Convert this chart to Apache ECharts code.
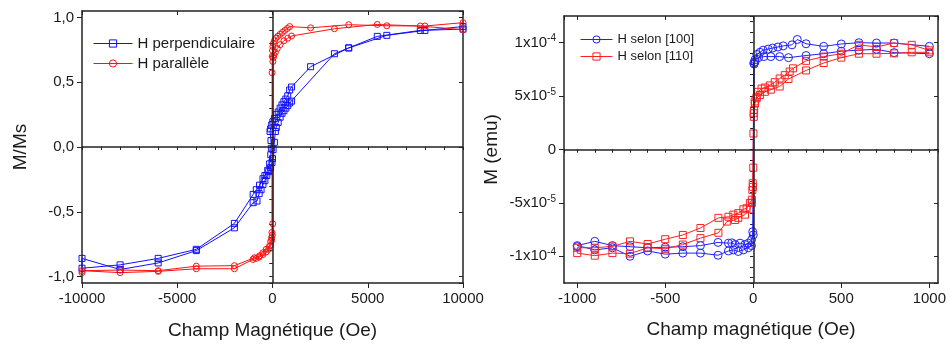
<!DOCTYPE html>
<html><head><meta charset="utf-8">
<script src="https://cdn.jsdelivr.net/npm/echarts@6/dist/echarts.min.js"></script>
<style>html,body{margin:0;padding:0;background:#fff}#c{width:949px;height:345px}</style>
</head><body><div id="c"></div>
<script>
// ---- Left chart: M/Ms vs field (Oe) ----
const perpH = [10000,8000,6000,4000,2000,1000,900,800,700,600,500,400,300,200,100,20,-40,-100,-130,-80,-60,-90,-150,-250,-400,-500,-680,-850,-1015,-2000,-4000,-6000,-8000,-10000,
  -10000,-8000,-6000,-4000,-2000,-1015,-815,-700,-600,-500,-400,-300,-200,-100,-30,0,30,100,150,200,300,400,500,600,700,800,900,1000,3250,4000,5500,7760,10000];
const perpM = [0.93,0.90,0.862,0.765,0.62,0.463,0.44,0.395,0.37,0.35,0.325,0.30,0.27,0.25,0.22,0.195,0.17,0.14,0.12,0.05,-0.01,-0.06,-0.13,-0.18,-0.22,-0.245,-0.295,-0.33,-0.366,-0.59,-0.79,-0.86,-0.91,-0.936,
  -0.86,-0.946,-0.895,-0.80,-0.624,-0.43,-0.417,-0.36,-0.33,-0.29,-0.26,-0.22,-0.19,-0.16,-0.12,-0.09,-0.02,0.036,0.12,0.15,0.19,0.23,0.26,0.28,0.30,0.32,0.34,0.354,0.72,0.765,0.854,0.90,0.91];
const paraH = [10000,8000,6000,4000,2000,900,780,650,520,400,280,180,100,50,20,0,-10,-20,-30,-50,-100,-160,-330,-510,-680,-950,-2000,-4000,-6000,-8000,-10000,
  -10000,-8000,-6000,-4000,-2000,-1030,-850,-700,-500,-330,-200,-100,-40,-10,10,20,40,80,150,250,400,600,800,1000,3250,5500,7760,10000];
const paraM = [0.96,0.934,0.936,0.944,0.92,0.93,0.915,0.90,0.885,0.87,0.855,0.84,0.82,0.80,0.775,0.745,0.70,0.573,-0.66,-0.70,-0.73,-0.766,-0.79,-0.817,-0.84,-0.855,-0.916,-0.92,-0.955,-0.95,-0.955,
  -0.97,-0.97,-0.96,-0.94,-0.94,-0.868,-0.86,-0.85,-0.83,-0.81,-0.79,-0.76,-0.72,-0.68,-0.593,0.66,0.69,0.71,0.73,0.76,0.79,0.82,0.84,0.857,0.913,0.946,0.934,0.905];

// ---- Right chart: M (emu) vs field (Oe) ----
const h100H = [1000,800,700,600,500,400,300,250,220,170,140,110,85,56,38,20,10,5,0,-10,-28,-47,-75,-103,-122,-141,-200,-300,-400,-500,-600,-700,-800,-900,-1000,
  -1000,-900,-800,-700,-600,-500,-400,-300,-200,-141,-113,-85,-56,-28,-10,-3,3,10,30,60,100,150,200,300,400,500,600,700,800,1000];
const h100M = [9.66e-5,9.97e-5,9.97e-5,1.0e-4,9.88e-5,9.66e-5,9.9e-5,1.03e-4,9.8e-5,9.7e-5,9.6e-5,9.5e-5,9.4e-5,9.3e-5,9.1e-5,8.9e-5,8.2e-5,8.0e-5,-8.0e-5,-8.46e-5,-8.77e-5,-8.9e-5,-8.77e-5,-8.9e-5,-8.74e-5,-8.77e-5,-8.7e-5,-9.0e-5,-9.1e-5,-9.15e-5,-9.2e-5,-9.1e-5,-9.0e-5,-8.6e-5,-9.0e-5,
  -9.1e-5,-9.4e-5,-9.2e-5,-10.0e-5,-9.5e-5,-9.8e-5,-9.7e-5,-9.7e-5,-9.9e-5,-9.5e-5,-9.4e-5,-9.55e-5,-9.4e-5,-9.2e-5,-9.0e-5,-7.7e-5,8.1e-5,8.4e-5,8.6e-5,8.7e-5,8.7e-5,8.7e-5,8.6e-5,8.8e-5,8.97e-5,9.2e-5,9.3e-5,9.38e-5,9.07e-5,8.97e-5];
const h110H = [1000,900,800,700,600,500,400,300,226,207,179,150,122,94,66,47,28,19,10,5,3,1,0,-3,-5,-8,-19,-38,-56,-85,-113,-141,-198,-300,-400,-500,-600,-700,-800,-900,-1000,
  -1000,-900,-800,-700,-600,-500,-400,-300,-198,-150,-104,-85,-47,-19,-8,-2,2,8,19,38,66,100,150,200,300,400,500,600,700,800,900,1000];
const h110M = [9.28e-5,9.8e-5,9.97e-5,9.6e-5,9.8e-5,8.97e-5,8.7e-5,8.3e-5,7.6e-5,7.3e-5,6.96e-5,6.65e-5,6.3e-5,6.0e-5,5.8e-5,5.7e-5,5.4e-5,4.9e-5,4.3e-5,3.7e-5,3.06e-5,1.5e-5,-1.7e-5,-3.16e-5,-3.8e-5,-4.7e-5,-5.0e-5,-5.5e-5,-5.6e-5,-5.96e-5,-6.1e-5,-6.3e-5,-6.4e-5,-7.35e-5,-8.0e-5,-8.4e-5,-8.85e-5,-8.6e-5,-9.07e-5,-9.2e-5,-9.2e-5,
  -9.7e-5,-9.94e-5,-9.7e-5,-9.75e-5,-9.2e-5,-9.3e-5,-8.9e-5,-8.3e-5,-7.8e-5,-6.75e-5,-6.6e-5,-6.4e-5,-6.1e-5,-5.6e-5,-5.0e-5,-3.5e-5,3.4e-5,4.5e-5,4.8e-5,5.1e-5,5.4e-5,5.6e-5,5.9e-5,6.6e-5,7.4e-5,8.1e-5,8.6e-5,8.97e-5,8.97e-5,9.0e-5,9.1e-5,9.1e-5];

const leftLegend = ['H perpendiculaire', 'H parallèle'];
const rightLegend = ['H selon [100]', 'H selon [110]'];

const FONT = 'Liberation Sans, Arial, sans-serif';
const TXT = '#1a1a1a';
const zip = (a, b) => a.map((v, i) => [v, b[i]]);

function axesFor(dim, grid, min, max, majorSplit, minorSplit, opts) {
  const main = dim === 'x' ? 'bottom' : 'left';
  const mirror = dim === 'x' ? 'top' : 'right';
  const base = { type: 'value', gridIndex: grid, min: min, max: max, splitLine: { show: false }, scale: false };
  const line = { show: true, onZero: false, lineStyle: { color: '#222', width: 1.5 } };
  return [
    Object.assign({}, base, {
      position: main, splitNumber: majorSplit, axisLine: line,
      axisTick: { show: true, inside: false, length: 5, lineStyle: { color: '#222', width: 1 } },
      axisLabel: Object.assign({ show: true, fontSize: 15, color: TXT, fontFamily: FONT, margin: 8,
        showMinLabel: false, showMaxLabel: false, formatter: v => String(Math.round(v)) }, opts.label || {}),
      name: opts.name, nameLocation: 'middle', nameGap: opts.nameGap,
      nameTextStyle: { fontSize: 19, color: TXT, fontFamily: FONT }
    }),
    Object.assign({}, base, {
      position: main, splitNumber: minorSplit, axisLine: { show: false },
      axisTick: { show: true, inside: false, length: 3, lineStyle: { color: '#222', width: 1 } },
      axisLabel: { show: false }
    }),
    Object.assign({}, base, {
      position: mirror, splitNumber: majorSplit, axisLine: line,
      axisTick: { show: true, inside: true, length: 4, lineStyle: { color: '#222', width: 1 } },
      axisLabel: { show: false }
    }),
    Object.assign({}, base, {
      position: mirror, splitNumber: minorSplit, axisLine: { show: false },
      axisTick: { show: true, inside: true, length: 3, lineStyle: { color: '#222', width: 1 } },
      axisLabel: { show: false }
    })
  ];
}

const xAxes = [].concat(
  axesFor('x', 0, -10000, 10000, 4, 20, { name: 'Champ Magnétique (Oe)', nameGap: 38,
    label: { showMinLabel: true, showMaxLabel: true } }),
  axesFor('x', 1, -1075, 1050, 4, 21, { name: 'Champ magnétique (Oe)', nameGap: 37 })
);
const yAxes = [].concat(
  axesFor('y', 0, -1.05, 1.05, 4, 21, { name: 'M/Ms', nameGap: 52,
    label: { formatter: v => (Math.round(v * 10) / 10).toFixed(1).replace('.', ',') } }),
  axesFor('y', 1, -1.25e-4, 1.25e-4, 5, 25, { name: 'M (emu)', nameGap: 63,
    label: {
      formatter: v => {
        const m = Math.round(v * 1e5);
        if (m === 0) return '0';
        const s = m < 0 ? '-' : '';
        const a = Math.abs(m);
        return a === 10 ? s + '1x10{sup|-4}' : s + a + 'x10{sup|-5}';
      },
      rich: { sup: { fontSize: 10, fontFamily: FONT, color: TXT, verticalAlign: 'bottom', padding: [0, 0, 8, 0] } }
    } })
);

function dataSeries(name, xi, yi, data, color, symbol, size) {
  return {
    name: name, type: 'line', xAxisIndex: xi, yAxisIndex: yi, data: data,
    symbol: symbol, symbolSize: size, showSymbol: true, showAllSymbol: true,
    lineStyle: { color: color, width: 1 },
    itemStyle: { color: 'rgba(255,255,255,0)', borderColor: color, borderWidth: 1 },
    z: 3, animation: false
  };
}
function zeroLines(xi, yi) {
  return {
    type: 'line', xAxisIndex: xi, yAxisIndex: yi, data: [], z: 1, silent: true,
    markLine: { silent: true, symbol: 'none', label: { show: false }, animation: false,
      lineStyle: { color: '#222', width: 1.5, type: 'solid' },
      data: [{ xAxis: 0 }, { yAxis: 0 }] }
  };
}

const option = {
  animation: false,
  backgroundColor: '#fff',
  textStyle: { fontFamily: FONT },
  grid: [
    { left: 82, right: 486, top: 11, bottom: 61 },
    { left: 564, right: 8, top: 16, bottom: 62 }
  ],
  xAxis: xAxes,
  yAxis: yAxes,
  legend: [
    { data: leftLegend, orient: 'vertical', left: 88, top: 31, itemWidth: 39, itemHeight: 9, itemGap: 5,
      lineStyle: { width: 1 }, itemStyle: { borderWidth: 1 },
      textStyle: { fontSize: 15, color: TXT, fontFamily: FONT } },
    { data: rightLegend, orient: 'vertical', left: 575, top: 28, itemWidth: 32, itemHeight: 9, itemGap: 4,
      lineStyle: { width: 1 }, itemStyle: { borderWidth: 1 },
      textStyle: { fontSize: 13, color: TXT, fontFamily: FONT } }
  ],
  series: [
    zeroLines(0, 0),
    zeroLines(4, 4),
    dataSeries(leftLegend[0], 0, 0, zip(perpH, perpM), '#1010ff', 'rect', 6),
    dataSeries(leftLegend[1], 0, 0, zip(paraH, paraM), '#ff1010', 'circle', 6),
    dataSeries(rightLegend[0], 4, 4, zip(h100H, h100M), '#2020ff', 'circle', 8),
    dataSeries(rightLegend[1], 4, 4, zip(h110H, h110M), '#ff2020', 'rect', 7)
  ]
};
const chart = echarts.init(document.getElementById('c'), null, { renderer: 'canvas' });
chart.setOption(option);
</script></body></html>
